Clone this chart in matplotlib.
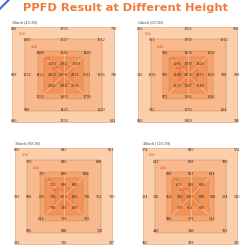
import matplotlib.pyplot as plt
from matplotlib.patches import Rectangle

# PPFD readings, rings from outside in: TL, TM, TR, ML, MR, BL, BM, BR
h18_ring1 = [830, 1355, 710, 699, 790, 646, 1259, 632]
h18_ring2 = [1085, 1627, 1212, 1512, 1826, 990, 1425, 1120]
h18_ring3 = [1388, 1846, 1420, 1822, 2011, 1653, 1903, 1778]
h18_ring4 = [1943, 2062, 1919, 2163, 2312, 2060, 2102, 2019]
h18_center = 2199

h24_ring1 = [865, 1503, 966, 516, 909, 656, 1389, 706]
h24_ring2 = [961, 1350, 1012, 1032, 928, 592, 1079, 854]
h24_ring3 = [956, 1420, 1139, 909, 1195, 972, 1506, 1026]
h24_ring4 = [1186, 1299, 1425, 1148, 1375, 1130, 1347, 1349]
h24_center = 1402

h36_ring1 = [605, 842, 811, 592, 716, 533, 790, 707]
h36_ring2 = [793, 846, 808, 688, 722, 506, 698, 720]
h36_ring3 = [735, 890, 844, 670, 798, 614, 736, 765]
h36_ring4 = [732, 906, 846, 738, 816, 738, 789, 809]
h36_center = 823

h48_ring1 = [574, 695, 574, 524, 546, 502, 589, 595]
h48_ring2 = [612, 659, 589, 538, 524, 490, 548, 503]
h48_ring3 = [609, 662, 631, 564, 598, 586, 579, 511]
h48_ring4 = [671, 658, 649, 596, 608, 579, 621, 609]
h48_center = 616

panel_titles = ['18inch (45CM)', '24inch (60CM)', '36inch (90CM)', '48inch (120CM)']
area_labels = ['5x5ft', '4x4ft', '3x3ft', '2x2ft']

square_half = [2.5, 1.87, 1.24, 0.95, 0.46]
square_colors = ['#fbcfab', '#f8b98c', '#f5a46e', '#f29458', '#ef8848']
ring_off = [2.42, 1.8, 1.15, 0.58]
label_pos = [(-2.0, 2.12), (-1.4, 1.45), (-0.8, 0.85), (-0.42, 0.36)]

panels = [
    ([h18_ring1, h18_ring2, h18_ring3, h18_ring4], h18_center),
    ([h24_ring1, h24_ring2, h24_ring3, h24_ring4], h24_center),
    ([h36_ring1, h36_ring2, h36_ring3, h36_ring4], h36_center),
    ([h48_ring1, h48_ring2, h48_ring3, h48_ring4], h48_center),
]
boxes = [
    [0.049, 0.504, 0.417, 0.387],
    [0.559, 0.504, 0.405, 0.387],
    [0.061, 0.012, 0.397, 0.391],
    [0.579, 0.012, 0.385, 0.391],
]

serif = ['Liberation Serif', 'DejaVu Serif']
fig = plt.figure(figsize=(2.47, 2.48), dpi=100)

for (rings, center), box, title in zip(panels, boxes, panel_titles):
    ax = fig.add_axes(box)
    ax.set_xlim(-2.5, 2.5)
    ax.set_ylim(-2.5, 2.5)
    ax.axis('off')
    for h, c in zip(square_half, square_colors):
        ax.add_patch(Rectangle((-h, -h), 2 * h, 2 * h, facecolor=c,
                               edgecolor='#c98060', lw=0.35))
    # light guide lines through the middle
    d = square_half[3]
    ax.plot([-d, d], [-d, d], color='white', lw=0.4, alpha=0.6)
    ax.plot([-d, d], [d, -d], color='white', lw=0.4, alpha=0.6)
    ax.plot([0, 0], [-square_half[2], square_half[2]], color='white', lw=0.4, alpha=0.6)

    for vals, o in zip(rings, ring_off):
        pos = [(-o, o), (0, o), (o, o), (-o, 0), (o, 0), (-o, -o), (0, -o), (o, -o)]
        for v, (x, y) in zip(vals, pos):
            ax.text(x, y, str(v), ha='center', va='center', fontsize=3.1,
                    family=serif, color='#2e2018', clip_on=False)
    ax.text(0, 0, str(center), ha='center', va='center', fontsize=3.1,
            family=serif, color='#2e2018')
    for lab, (x, y) in zip(area_labels, label_pos):
        ax.text(x, y, lab, ha='center', va='center', fontsize=2.3,
                family=serif, color='#d9442a')
    ax.text(-2.5, 2.75, title, ha='left', va='center', fontsize=3.0,
            family=serif, color='#444444', clip_on=False)

fig.text(0.51, 0.968, 'PPFD Result at Different Height', ha='center', va='center',
         fontsize=8.2, fontweight='bold', color='#ef7b3a', family='DejaVu Sans')
fig.add_artist(plt.Line2D([0.0, 0.035], [0.965, 1.0], color='#3a6fd0', lw=1.5))

fig.savefig('out.png', dpi=100)
